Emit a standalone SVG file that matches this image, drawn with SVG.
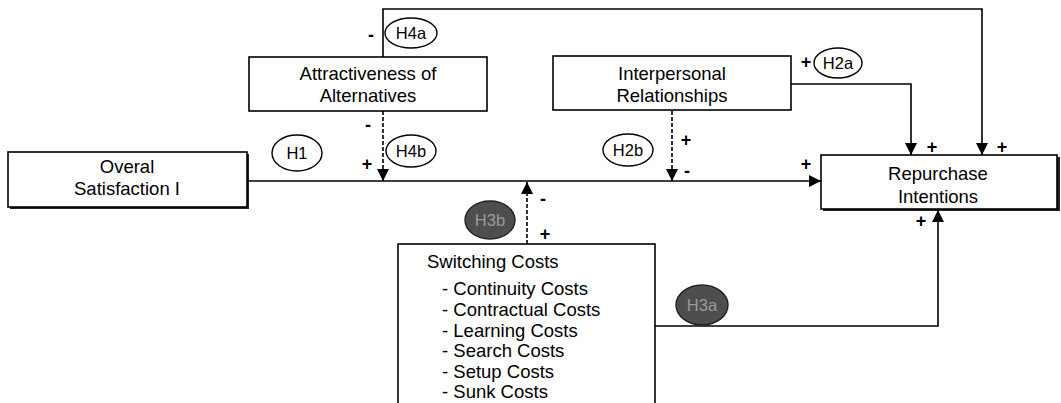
<svg xmlns="http://www.w3.org/2000/svg" width="1061" height="403" viewBox="0 0 1061 403">
  <style>
    .box { fill: #fff; stroke: #000; stroke-width: 1.6; }
    .shadow { fill: #222; }
    .label { font-family: "Liberation Sans", Arial, sans-serif; font-size: 18.5px; fill: #000; }
    .hyp { fill: #fff; stroke: #000; stroke-width: 1.4; }
    .hyp-dark { fill: #4e4e4e; stroke: #222; stroke-width: 1.4; }
    .htext { font-family: "Liberation Sans", Arial, sans-serif; font-size: 16.5px; fill: #000; text-anchor: middle; }
    .htext-dark { font-family: "Liberation Sans", Arial, sans-serif; font-size: 16.5px; fill: #9a9a9a; text-anchor: middle; }
    .sign { font-family: "Liberation Sans", Arial, sans-serif; font-size: 18px; font-weight: bold; fill: #000; text-anchor: middle; }
    .line { fill: none; stroke: #000; stroke-width: 1.6; }
    .dash { fill: none; stroke: #000; stroke-width: 1.6; stroke-dasharray: 4 2; }
  </style>
  <defs>
    <marker id="arrow" viewBox="0 0 10 10" refX="10" refY="5" markerWidth="12" markerHeight="12" markerUnits="userSpaceOnUse" orient="auto">
      <path d="M0,0 L10,5 L0,10 Z" fill="#000"/>
    </marker>
  </defs>

  <!-- connectors -->
  <g id="connectors">
    <path class="line" d="M383,57 V9 H982 V155" marker-end="url(#arrow)"/>
    <path class="line" d="M791,84 H911 V155" marker-end="url(#arrow)"/>
    <path class="line" d="M247,181 H821" marker-end="url(#arrow)"/>
    <path class="dash" d="M383,111 V181" marker-end="url(#arrow)"/>
    <path class="dash" d="M672,111 V181" marker-end="url(#arrow)"/>
    <path class="dash" d="M527,244 V182" marker-end="url(#arrow)"/>
    <path class="line" d="M655,326 H938 V210" marker-end="url(#arrow)"/>
  </g>

  <!-- signs on paths -->
  <g id="signs">
    <text class="sign" x="371" y="41">-</text>
    <text class="sign" x="368" y="131">-</text>
    <text class="sign" x="367" y="170">+</text>
    <text class="sign" x="686" y="146">+</text>
    <text class="sign" x="687" y="177">-</text>
    <text class="sign" x="806" y="68">+</text>
    <text class="sign" x="932" y="153">+</text>
    <text class="sign" x="1002" y="153">+</text>
    <text class="sign" x="806" y="170">+</text>
    <text class="sign" x="921" y="227">+</text>
    <text class="sign" x="543" y="205">-</text>
    <text class="sign" x="545" y="240">+</text>
  </g>

  <!-- hypothesis tags -->
  <g id="h1"><ellipse class="hyp" cx="297" cy="153" rx="25" ry="18"/><text class="htext" x="297" y="159">H1</text></g>
  <g id="h4a"><ellipse class="hyp" cx="411" cy="33" rx="26" ry="15"/><text class="htext" x="411" y="39">H4a</text></g>
  <g id="h4b"><ellipse class="hyp" cx="411" cy="151" rx="25" ry="16"/><text class="htext" x="411" y="157">H4b</text></g>
  <g id="h2a"><ellipse class="hyp" cx="838" cy="63" rx="24" ry="15"/><text class="htext" x="838" y="69">H2a</text></g>
  <g id="h2b"><ellipse class="hyp" cx="628" cy="150" rx="25" ry="16"/><text class="htext" x="628" y="156">H2b</text></g>
  <g id="h3b"><ellipse class="hyp-dark" cx="490" cy="220" rx="25" ry="19"/><text class="htext-dark" x="490" y="226">H3b</text></g>
  <g id="h3a"><ellipse class="hyp-dark" cx="702" cy="305" rx="26" ry="20"/><text class="htext-dark" x="702" y="311">H3a</text></g>

  <!-- construct boxes -->
  <g id="overall-satisfaction">
    <rect class="shadow" x="10" y="154" width="239" height="55"/>
    <rect class="box" x="8" y="152" width="239" height="55"/>
    <text class="label" text-anchor="middle" x="127" y="173">Overal</text>
    <text class="label" text-anchor="middle" x="127" y="195">Satisfaction I</text>
  </g>

  <g id="attractiveness">
    <rect class="box" x="249" y="57" width="238" height="54"/>
    <text class="label" text-anchor="middle" x="368" y="80">Attractiveness of</text>
    <text class="label" text-anchor="middle" x="368" y="102">Alternatives</text>
  </g>

  <g id="interpersonal">
    <rect class="box" x="553" y="56" width="238" height="54"/>
    <text class="label" text-anchor="middle" x="672" y="80">Interpersonal</text>
    <text class="label" text-anchor="middle" x="672" y="102">Relationships</text>
  </g>

  <g id="repurchase">
    <rect class="shadow" x="823" y="157" width="237" height="54"/>
    <rect class="box" x="821" y="155" width="236" height="54"/>
    <text class="label" text-anchor="middle" x="938" y="180">Repurchase</text>
    <text class="label" text-anchor="middle" x="938" y="203">Intentions</text>
  </g>

  <g id="switching-costs">
    <rect class="box" x="398" y="244" width="257" height="170"/>
    <text class="label" x="427" y="268">Switching Costs</text>
    <text class="label" x="442" y="295">- Continuity Costs</text>
    <text class="label" x="442" y="316">- Contractual Costs</text>
    <text class="label" x="442" y="337">- Learning Costs</text>
    <text class="label" x="442" y="357">- Search Costs</text>
    <text class="label" x="442" y="378">- Setup Costs</text>
    <text class="label" x="442" y="398">- Sunk Costs</text>
  </g>
</svg>
